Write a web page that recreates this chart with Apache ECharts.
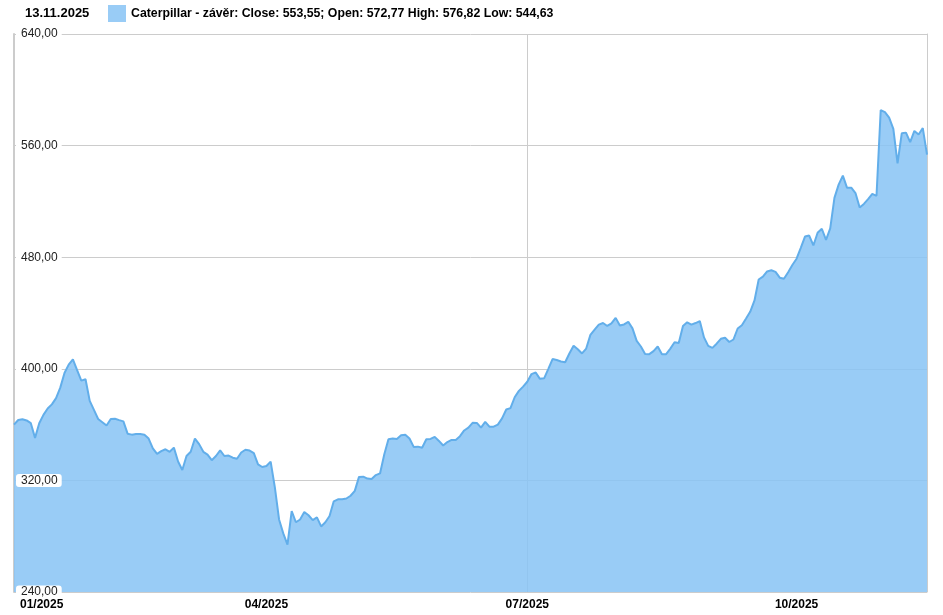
<!DOCTYPE html>
<html>
<head>
<meta charset="utf-8">
<script src="https://cdn.jsdelivr.net/npm/echarts@6/dist/echarts.min.js"></script>
<style>html,body{margin:0;padding:0;background:#fff}#chart{width:943px;height:615px}</style>
</head>
<body>
<div id="chart"></div>
<script>
// ---- data ----
const headerDate = '13.11.2025';
const seriesName = 'Caterpillar - závěr';
const legendInfo = 'Close: 553,55; Open: 572,77 High: 576,82 Low: 544,63';
const yMin = 240, yMax = 640, yStep = 80;
const firstDay = '2025-01-02';
const lastDay = '2025-11-13';
const marketHolidays = ['2025-01-01','2025-01-09','2025-01-20','2025-02-17','2025-04-18','2025-05-26','2025-06-19','2025-07-04','2025-09-01'];
const labelMonths = ['01','04','07','10'];
const markerDate = '2025-07-01';
const closeValues = [
  360, 363.3, 363.8, 363, 361, 350.5, 361, 367, 371.5, 374.5,
  379, 386.5, 397, 403, 406.8, 399, 391.5, 392.5, 377, 370.5,
  364, 361.7, 359.3, 364, 364.2, 363.2, 362.3, 353.5, 352.8, 353.3,
  353.3, 352.8, 350, 343, 339, 341, 342.3, 340.5, 343.5, 333.5,
  327.5, 337.5, 340.5, 350, 346, 340.5, 338.5, 334.5, 337.5, 341.5,
  337.5, 337.8, 336.3, 335.5, 340, 342, 341.4, 339.5, 331.5, 329.6,
  330.3, 333.5, 315, 292, 282, 274, 298, 290, 292, 297.3,
  295, 291.5, 293.5, 287, 290, 294.5, 305, 306.4, 306.5, 307,
  309, 312.5, 322.5, 322.7, 321.3, 321, 323.8, 325, 338.5, 349.5,
  350, 349.6, 352.3, 352.7, 350, 344, 344.2, 343.4, 349.5, 349.7,
  351.2, 348.3, 345, 347.5, 349, 349, 351.7, 355.8, 357.8, 361.3,
  361.2, 357.8, 362, 358.5, 358.5, 360, 364.5, 370.8, 371.8, 379.6,
  384.2, 387.2, 390.7, 396.2, 397.4, 392.8, 393.2, 400, 407, 406.3,
  405.2, 404.7, 411, 416.5, 414, 411, 414.5, 424.3, 428, 431.7,
  432.8, 430.7, 432.5, 436.5, 431, 431.8, 433.7, 429, 420, 416,
  410.6, 410.5, 412.7, 416, 410.5, 410.5, 414.5, 419, 418.5, 430.7,
  433.3, 431.7, 432.8, 434.2, 422.5, 416.4, 415, 418, 421.5, 422.3,
  419.2, 421, 428.9, 431.2, 436, 441, 449, 464, 466.1, 469.8,
  470.6, 469.5, 465.3, 464.6, 469.2, 474.4, 478.9, 486.7, 494.8, 495.5,
  488.4, 497.5, 500.4, 492.4, 500.6, 522.5, 532, 538.5, 529.7, 529.8,
  526, 515.6, 518.2, 521.6, 525.4, 524, 585.5, 584, 580, 572,
  547.3, 568.8, 569.3, 562.5, 570.5, 568, 572.5, 553.55
];

// ---- trading-day categories ----
function isoDay(d){ return d.toISOString().slice(0,10); }
const tradingDays = [];
for (let d = new Date(firstDay + 'T00:00:00Z'); isoDay(d) <= lastDay; d.setUTCDate(d.getUTCDate()+1)) {
  const wd = d.getUTCDay();
  const s = isoDay(d);
  if (wd === 0 || wd === 6 || marketHolidays.includes(s)) continue;
  tradingDays.push(s);
}
const labelDays = new Set();
tradingDays.forEach((s, i) => {
  const m = s.slice(5,7);
  if ((i === 0 || tradingDays[i-1].slice(5,7) !== m) && labelMonths.includes(m)) labelDays.add(s);
});

const FONT = '"Liberation Sans", Arial, sans-serif';
const chart = echarts.init(document.getElementById('chart'), null, {renderer: 'canvas'});
chart.setOption({
  animation: false,
  backgroundColor: '#fff',
  title: {
    text: headerDate, left: 20, top: 2,
    textStyle: {fontFamily: FONT, fontSize: 13, fontWeight: 'bold', color: '#000'}
  },
  legend: {
    left: 103, top: 0, itemWidth: 18, itemHeight: 17, icon: 'rect',
    data: [seriesName],
    itemStyle: {color: '#99CCF6', borderWidth: 0},
    lineStyle: {width: 0},
    formatter: name => name + ': ' + legendInfo,
    textStyle: {fontFamily: FONT, fontSize: 12.3, fontWeight: 'bold', color: '#000'}
  },
  grid: {left: 14, right: 16, top: 34, bottom: 23, containLabel: false},
  xAxis: {
    type: 'category', data: tradingDays, boundaryGap: false,
    axisLine: {show: false}, axisTick: {show: false},
    axisLabel: {
      interval: (i, v) => labelDays.has(v),
      formatter: (v, i) => {
        const t = v.slice(5,7) + '/' + v.slice(0,4);
        return i === 0 ? '{first|' + t + '}' : t;
      },
      rich: {first: {padding: [0, 0, 0, 6], fontFamily: FONT, fontSize: 12, fontWeight: 'bold', color: '#000'}},
      fontFamily: FONT, fontSize: 12, fontWeight: 'bold', color: '#000',
      margin: 7, alignMinLabel: 'left'
    },
    splitLine: {show: true, interval: (i, v) => v === markerDate, lineStyle: {color: '#cccccc', width: 1}}
  },
  yAxis: [
    {
      type: 'value', min: yMin, max: yMax, interval: yStep, position: 'left',
      axisLine: {show: true, lineStyle: {color: '#cccccc', width: 2}},
      axisTick: {show: false}, axisLabel: {show: false},
      splitLine: {show: true, lineStyle: {color: '#cccccc', width: 1}}
    },
    {
      type: 'value', min: yMin, max: yMax, interval: yStep, position: 'left', z: 10,
      axisLine: {show: false}, axisTick: {show: false}, splitLine: {show: false},
      axisLabel: {
        inside: true, margin: 2,
        formatter: v => v.toFixed(2).replace('.', ','),
        fontFamily: FONT, fontSize: 12, color: '#222',
        backgroundColor: '#ffffff', padding: [1, 4, 0, 5], borderRadius: 3
      }
    },
    {
      type: 'value', min: yMin, max: yMax, interval: yStep, position: 'right',
      axisLine: {show: true, lineStyle: {color: '#cccccc', width: 1}},
      axisTick: {show: false}, axisLabel: {show: false}, splitLine: {show: false}
    }
  ],
  series: [{
    name: seriesName, type: 'line', data: closeValues, yAxisIndex: 0,
    showSymbol: false, smooth: false,
    lineStyle: {color: '#62AEEA', width: 2},
    itemStyle: {color: '#99CCF6'},
    areaStyle: {color: 'rgb(135,195,244)', opacity: 0.85}
  }]
});
</script>
</body>
</html>
